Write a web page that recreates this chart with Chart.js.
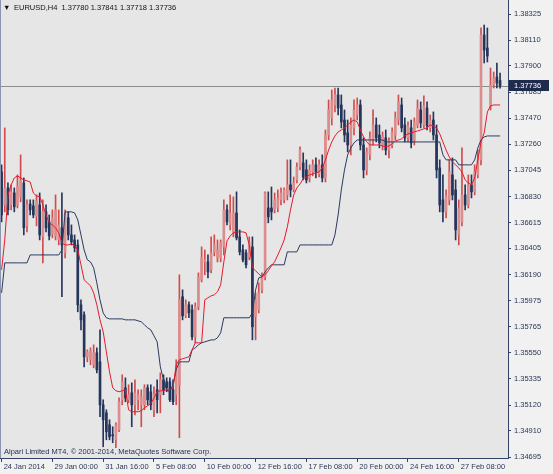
<!DOCTYPE html>
<html lang="en">
<head>
  <meta charset="UTF-8">
  <title>EURUSD,H4</title>
  <script src="https://cdn.jsdelivr.net/npm/chart.js"></script>
  <style>
    body { margin: 0; background: #f0f0f0; }
    .chart-box { position: relative; width: 553px; height: 474px; }
  </style>
</head>
<body>
  <div class="chart-box">
    <canvas id="chart"></canvas>
  </div>
  <script>
    const symbol = 'EURUSD,H4';
    const footerText = 'Alpari Limited MT4, \u00A9 2001-2014, MetaQuotes Software Corp.';
    const slotCount = 160; // 158 bars plus chart shift
    const xTickLabels = ['24 Jan 2014', '29 Jan 00:00', '31 Jan 16:00', '5 Feb 08:00', '10 Feb 00:00',
      '12 Feb 16:00', '17 Feb 08:00', '20 Feb 00:00', '24 Feb 16:00', '27 Feb 08:00'];
    const yTicks = [1.38325, 1.38110, 1.37900, 1.37685, 1.37470, 1.37260, 1.37045, 1.36830, 1.36615,
      1.36405, 1.36190, 1.35975, 1.35765, 1.35550, 1.35335, 1.35120, 1.34910, 1.34695];

    const opens = [
      1.37031, 1.36761, 1.36900, 1.36761, 1.36859, 1.36761, 1.36827, 1.36941, 1.36589, 1.36769,
      1.36753, 1.36671, 1.36761, 1.36499, 1.36704, 1.36622, 1.36524, 1.36507, 1.36474, 1.36573,
      1.36368, 1.36655, 1.36515, 1.36474, 1.36433, 1.35942, 1.35860, 1.35516, 1.35492, 1.35451,
      1.35549, 1.35475, 1.35123, 1.35057, 1.34959, 1.34877, 1.34836, 1.34918, 1.35164, 1.35262,
      1.35164, 1.35221, 1.35123, 1.35164, 1.35123, 1.35123, 1.35262, 1.35230, 1.35082, 1.35246,
      1.35205, 1.35328, 1.35311, 1.35311, 1.35246, 1.35205, 1.35287, 1.36008, 1.35852, 1.35942,
      1.35901, 1.35680, 1.35926, 1.36147, 1.36294, 1.36294, 1.36229, 1.36376, 1.36327, 1.36327,
      1.36417, 1.36720, 1.36597, 1.36532, 1.36695, 1.36499, 1.36392, 1.36368, 1.36335, 1.36417,
      1.35844, 1.35901, 1.36065, 1.36171, 1.36736, 1.36736, 1.36720, 1.36736, 1.36802, 1.36802,
      1.36843, 1.36925, 1.36884, 1.36966, 1.37072, 1.37105, 1.37048, 1.36982, 1.37031, 1.37089,
      1.37015, 1.37089, 1.36982, 1.37334, 1.37474, 1.37580, 1.37662, 1.37580, 1.37457, 1.37351,
      1.37252, 1.37392, 1.37498, 1.37580, 1.37252, 1.37048, 1.37171, 1.37293, 1.37416, 1.37334,
      1.37252, 1.37310, 1.37211, 1.37252, 1.37334, 1.37457, 1.37580, 1.37416, 1.37310, 1.37392,
      1.37293, 1.37416, 1.37539, 1.37416, 1.37555, 1.37392, 1.37457, 1.37334, 1.37064, 1.36802,
      1.36704, 1.36802, 1.37007, 1.36884, 1.36515, 1.36622, 1.36843, 1.36761, 1.36925, 1.36868,
      1.37007, 1.37130, 1.38153, 1.38047, 1.37564, 1.37744, 1.37809, 1.37780
    ];
    const highs = [
      1.37089, 1.37392, 1.36941, 1.36925, 1.36900, 1.37007, 1.37171, 1.36982, 1.36802, 1.36802,
      1.36802, 1.36843, 1.36859, 1.36802, 1.36761, 1.36679, 1.36720, 1.36843, 1.36720, 1.36859,
      1.36720, 1.36704, 1.36597, 1.36515, 1.36474, 1.35983, 1.35885, 1.35573, 1.35590, 1.35614,
      1.35590, 1.35737, 1.35164, 1.35082, 1.35000, 1.34943, 1.34976, 1.35180, 1.35369, 1.35344,
      1.35287, 1.35303, 1.35328, 1.35246, 1.35246, 1.35287, 1.35287, 1.35287, 1.35270, 1.35328,
      1.35385, 1.35369, 1.35344, 1.35344, 1.35328, 1.35492, 1.36188, 1.36065, 1.35983, 1.35967,
      1.35942, 1.35958, 1.36204, 1.36417, 1.36392, 1.36351, 1.36499, 1.36515, 1.36474, 1.36474,
      1.36802, 1.36761, 1.36843, 1.36827, 1.36868, 1.36556, 1.36433, 1.36392, 1.36499, 1.36499,
      1.36040, 1.36122, 1.36204, 1.36868, 1.36868, 1.36908, 1.36859, 1.36884, 1.36900, 1.36900,
      1.37130, 1.37130, 1.36990, 1.37105, 1.37236, 1.37187, 1.37130, 1.37089, 1.37130, 1.37146,
      1.37130, 1.37171, 1.37375, 1.37621, 1.37703, 1.37719, 1.37719, 1.37662, 1.37539, 1.37457,
      1.37474, 1.37621, 1.37637, 1.37621, 1.37310, 1.37228, 1.37359, 1.37539, 1.37474, 1.37416,
      1.37359, 1.37375, 1.37310, 1.37392, 1.37523, 1.37662, 1.37637, 1.37474, 1.37441, 1.37457,
      1.37474, 1.37621, 1.37605, 1.37654, 1.37605, 1.37498, 1.37523, 1.37416, 1.37130, 1.37007,
      1.36884, 1.37130, 1.37146, 1.36966, 1.36802, 1.37228, 1.36925, 1.37007, 1.37007, 1.37089,
      1.37211, 1.38211, 1.38235, 1.38211, 1.37883, 1.37850, 1.37924, 1.37841
    ];
    const lows = [
      1.36622, 1.36704, 1.36679, 1.36720, 1.36704, 1.36736, 1.36786, 1.36515, 1.36540, 1.36679,
      1.36655, 1.36589, 1.36474, 1.36286, 1.36540, 1.36474, 1.36491, 1.36474, 1.36433, 1.36008,
      1.36327, 1.36474, 1.36433, 1.36376, 1.35885, 1.35737, 1.35434, 1.35475, 1.35451, 1.35426,
      1.35385, 1.35025, 1.34779, 1.34836, 1.34836, 1.34812, 1.34771, 1.34902, 1.35123, 1.35148,
      1.35139, 1.34943, 1.35041, 1.35082, 1.34943, 1.35082, 1.35123, 1.35082, 1.35025, 1.35057,
      1.35057, 1.35205, 1.35230, 1.35148, 1.35123, 1.35123, 1.34853, 1.35819, 1.35836, 1.35836,
      1.35655, 1.35631, 1.35901, 1.36130, 1.36188, 1.36163, 1.36204, 1.36343, 1.36294, 1.36294,
      1.36351, 1.36597, 1.36556, 1.36499, 1.36474, 1.36351, 1.36294, 1.36245, 1.36311, 1.35655,
      1.35655, 1.35876, 1.36040, 1.36147, 1.36614, 1.36638, 1.36695, 1.36704, 1.36761, 1.36777,
      1.36802, 1.36827, 1.36868, 1.36941, 1.37048, 1.36966, 1.36941, 1.36949, 1.36999, 1.36982,
      1.36990, 1.36949, 1.36949, 1.37293, 1.37416, 1.37523, 1.37498, 1.37392, 1.37277, 1.37195,
      1.37171, 1.37334, 1.37457, 1.37211, 1.36982, 1.37007, 1.37130, 1.37252, 1.37277, 1.37228,
      1.37211, 1.37171, 1.37146, 1.37228, 1.37293, 1.37416, 1.37359, 1.37277, 1.37277, 1.37228,
      1.37252, 1.37392, 1.37392, 1.37392, 1.37375, 1.37359, 1.37293, 1.36982, 1.36704, 1.36622,
      1.36655, 1.36761, 1.36802, 1.36474, 1.36433, 1.36589, 1.36720, 1.36736, 1.36818, 1.36843,
      1.36982, 1.37089, 1.37924, 1.37932, 1.37539, 1.37719, 1.37719, 1.37718
    ];
    const closes = [
      1.36679, 1.36900, 1.36720, 1.36868, 1.36745, 1.36917, 1.36958, 1.36573, 1.36761, 1.36720,
      1.36679, 1.36794, 1.36515, 1.36704, 1.36573, 1.36507, 1.36655, 1.36720, 1.36597, 1.36433,
      1.36679, 1.36515, 1.36458, 1.36409, 1.35942, 1.35819, 1.35516, 1.35557, 1.35565, 1.35549,
      1.35410, 1.35123, 1.35000, 1.34902, 1.34861, 1.34869, 1.34959, 1.35148, 1.35311, 1.35180,
      1.35205, 1.35123, 1.35221, 1.35205, 1.35189, 1.35262, 1.35164, 1.35123, 1.35205, 1.35164,
      1.35328, 1.35246, 1.35262, 1.35164, 1.35148, 1.35410, 1.35983, 1.35852, 1.35942, 1.35876,
      1.35680, 1.35926, 1.36171, 1.36327, 1.36311, 1.36212, 1.36368, 1.36433, 1.36392, 1.36450,
      1.36720, 1.36622, 1.36695, 1.36695, 1.36491, 1.36376, 1.36311, 1.36270, 1.36450, 1.35762,
      1.35983, 1.36040, 1.36171, 1.36859, 1.36663, 1.36704, 1.36802, 1.36818, 1.36859, 1.36884,
      1.36925, 1.36884, 1.36941, 1.37072, 1.37211, 1.36990, 1.36966, 1.37048, 1.37089, 1.37031,
      1.37089, 1.36982, 1.37334, 1.37539, 1.37621, 1.37662, 1.37555, 1.37441, 1.37334, 1.37252,
      1.37416, 1.37539, 1.37580, 1.37252, 1.37048, 1.37195, 1.37310, 1.37416, 1.37310, 1.37269,
      1.37326, 1.37211, 1.37277, 1.37359, 1.37474, 1.37605, 1.37392, 1.37310, 1.37408, 1.37269,
      1.37441, 1.37555, 1.37433, 1.37572, 1.37408, 1.37457, 1.37334, 1.37048, 1.36761, 1.36704,
      1.36835, 1.37031, 1.36843, 1.36556, 1.36736, 1.36843, 1.36761, 1.36925, 1.36868, 1.37031,
      1.37130, 1.38153, 1.38030, 1.37981, 1.37744, 1.37801, 1.37760, 1.37736
    ];
    // red (fast) and dark blue (slow) indicator lines
    const fastLine = [
      1.36229, 1.36474, 1.36843, 1.36925, 1.36982, 1.36999, 1.36982, 1.36966, 1.36958, 1.36949,
      1.36859, 1.36835, 1.36827, 1.36761, 1.36679, 1.36614, 1.36597, 1.36573, 1.36532, 1.36450,
      1.36433, 1.36433, 1.36442, 1.36425, 1.36392, 1.36270, 1.36147, 1.36122, 1.36098, 1.36040,
      1.35942, 1.35819, 1.35721, 1.35557, 1.35393, 1.35262, 1.35238, 1.35230, 1.35238, 1.35246,
      1.35082, 1.35066, 1.35066, 1.35066, 1.35074, 1.35098, 1.35115, 1.35131, 1.35180, 1.35230,
      1.35238, 1.35238, 1.35246, 1.35246, 1.35262, 1.35451, 1.35492, 1.35500, 1.35508, 1.35516,
      1.35573, 1.35631, 1.35631, 1.35631, 1.35983, 1.36000, 1.36016, 1.36024, 1.36049, 1.36106,
      1.36294, 1.36466, 1.36507, 1.36532, 1.36540, 1.36540, 1.36540, 1.36532, 1.36433, 1.36245,
      1.36221, 1.36196, 1.36171, 1.36188, 1.36221, 1.36262, 1.36294, 1.36351, 1.36409, 1.36474,
      1.36581, 1.36720, 1.36843, 1.36900, 1.36933, 1.36974, 1.36990, 1.37007, 1.37015, 1.37023,
      1.37031, 1.37064, 1.37130, 1.37211, 1.37277, 1.37326, 1.37359, 1.37375, 1.37392, 1.37416,
      1.37441, 1.37457, 1.37441, 1.37375, 1.37318, 1.37277, 1.37252, 1.37252, 1.37252, 1.37252,
      1.37244, 1.37236, 1.37244, 1.37261, 1.37285, 1.37293, 1.37302, 1.37326, 1.37343, 1.37351,
      1.37359, 1.37367, 1.37375, 1.37384, 1.37392, 1.37416, 1.37408, 1.37392, 1.37343, 1.37277,
      1.37211, 1.37154, 1.37113, 1.37089, 1.37064, 1.37031, 1.36966, 1.36941, 1.36925, 1.36982,
      1.37130, 1.37277, 1.37351, 1.37523, 1.37572, 1.37580, 1.37580, 1.37580
    ];
    const slowLine = [
      1.36040, 1.36286, 1.36286, 1.36286, 1.36286, 1.36286, 1.36286, 1.36286, 1.36286, 1.36351,
      1.36351, 1.36351, 1.36351, 1.36351, 1.36351, 1.36351, 1.36351, 1.36351, 1.36351, 1.36392,
      1.36704, 1.36704, 1.36704, 1.36695, 1.36638, 1.36515, 1.36392, 1.36311, 1.36294, 1.36245,
      1.36122, 1.35983, 1.35876, 1.35836, 1.35827, 1.35827, 1.35827, 1.35827, 1.35827, 1.35819,
      1.35819, 1.35819, 1.35819, 1.35811, 1.35803, 1.35778, 1.35754, 1.35737, 1.35688, 1.35639,
      1.35434, 1.35328, 1.35246, 1.35230, 1.35287, 1.35410, 1.35475, 1.35475, 1.35475, 1.35475,
      1.35573, 1.35590, 1.35614, 1.35631, 1.35639, 1.35647, 1.35655, 1.35655, 1.35672, 1.35713,
      1.35836, 1.35836, 1.35836, 1.35836, 1.35836, 1.35836, 1.35836, 1.35836, 1.35836, 1.35876,
      1.36065, 1.36163, 1.36171, 1.36212, 1.36245, 1.36270, 1.36270, 1.36270, 1.36270, 1.36270,
      1.36376, 1.36376, 1.36376, 1.36376, 1.36433, 1.36433, 1.36433, 1.36433, 1.36433, 1.36433,
      1.36433, 1.36433, 1.36433, 1.36433, 1.36433, 1.36515, 1.36679, 1.36884, 1.37048, 1.37171,
      1.37228, 1.37269, 1.37293, 1.37293, 1.37293, 1.37293, 1.37293, 1.37293, 1.37293, 1.37293,
      1.37293, 1.37277, 1.37277, 1.37277, 1.37277, 1.37277, 1.37277, 1.37277, 1.37277, 1.37277,
      1.37277, 1.37277, 1.37277, 1.37277, 1.37277, 1.37277, 1.37277, 1.37277, 1.37277, 1.37171,
      1.37130, 1.37130, 1.37130, 1.37130, 1.37089, 1.37089, 1.37089, 1.37089, 1.37089, 1.37130,
      1.37228, 1.37293, 1.37318, 1.37326, 1.37326, 1.37326, 1.37326, 1.37326
    ];

    const bullBody = '#dc8c8c';
    const bullWick = '#d24c4c';
    const bearColor = '#26355a';
    const axisColor = '#34426a';
    const textColor = '#2a3756';
    const last = closes.length - 1;
    const lastPrice = closes[last];

    const slots = Array.from({ length: slotCount }, (_, i) => i);
    const isBull = opens.map((o, i) => closes[i] >= o && closes[i] !== o);

    const mtPlugin = {
      id: 'mt',
      beforeDraw(chart) {
        const { ctx, chartArea: a } = chart;
        ctx.save();
        ctx.fillStyle = '#f1f1f1';
        ctx.fillRect(0, 0, chart.width, chart.height);
        ctx.fillStyle = '#e6e6e6';
        ctx.fillRect(a.left, a.top, a.right - a.left, a.bottom - a.top);
        ctx.restore();
      },
      beforeDatasetsDraw(chart) {
        const { ctx, chartArea: a } = chart;
        const y = Math.round(chart.scales.y.getPixelForValue(lastPrice)) + 0.5;
        ctx.save();
        ctx.strokeStyle = '#8c8c8c';
        ctx.lineWidth = 1;
        ctx.beginPath();
        ctx.moveTo(a.left, y);
        ctx.lineTo(a.right, y);
        ctx.stroke();
        ctx.restore();
      },
      afterDraw(chart) {
        const { ctx, chartArea: a } = chart;
        ctx.save();
        // left edge of the chart window
        ctx.strokeStyle = '#8a94ae';
        ctx.beginPath();
        ctx.moveTo(a.left + 0.5, a.top);
        ctx.lineTo(a.left + 0.5, a.bottom);
        ctx.stroke();

        ctx.font = '7.5px "Liberation Sans", Arial, sans-serif';
        ctx.textBaseline = 'middle';
        ctx.fillStyle = '#111';
        ctx.fillText('\u25BC', 3, 8);
        const head = symbol + '  ' + [opens[last], highs[last], lows[last], closes[last]]
          .map(v => v.toFixed(5)).join(' ');
        ctx.fillText(head, 14, 8);

        ctx.fillStyle = '#24305a';
        ctx.fillText(footerText, 4, a.bottom - 6);

        // current price label on the price scale
        const y = chart.scales.y.getPixelForValue(lastPrice);
        ctx.fillStyle = '#1e2b4d';
        ctx.fillRect(a.right + 1, Math.round(y) - 6, 40, 11);
        ctx.fillStyle = '#ffffff';
        ctx.fillText(lastPrice.toFixed(5), a.right + 6, Math.round(y));
        ctx.restore();
      }
    };

    new Chart(document.getElementById('chart'), {
      type: 'bar',
      data: {
        labels: slots,
        datasets: [
          {
            type: 'line',
            data: fastLine,
            borderColor: '#e41b2c',
            borderWidth: 1,
            pointRadius: 0,
            tension: 0,
            order: 0
          },
          {
            type: 'line',
            data: slowLine,
            borderColor: '#2b3a60',
            borderWidth: 1,
            pointRadius: 0,
            tension: 0,
            order: 0
          },
          {
            data: opens.map((o, i) => [o, closes[i]]),
            backgroundColor: isBull.map(b => b ? bullBody : bearColor),
            barThickness: 2,
            minBarLength: 1,
            grouped: false,
            order: 1
          },
          {
            data: lows.map((l, i) => [l, highs[i]]),
            backgroundColor: isBull.map(b => b ? bullWick : bearColor),
            barThickness: 1,
            grouped: false,
            order: 2
          }
        ]
      },
      options: {
        responsive: true,
        maintainAspectRatio: false,
        animation: false,
        layout: { padding: 0 },
        plugins: {
          legend: { display: false },
          tooltip: { enabled: false }
        },
        scales: {
          x: {
            type: 'category',
            offset: true,
            border: { color: axisColor, width: 1 },
            grid: { drawOnChartArea: false, drawTicks: true, tickLength: 4, color: axisColor, offset: false },
            ticks: {
              autoSkip: false,
              maxRotation: 0,
              align: 'start',
              padding: 0,
              color: textColor,
              font: { family: '"Liberation Sans", Arial, sans-serif', size: 7.5 },
              callback: (v, i) => (i % 16 === 0 && xTickLabels[i / 16]) ? ' ' + xTickLabels[i / 16] : null
            },
            afterFit(scale) {
              scale.height = 16;
              scale.paddingLeft = 0;
              scale.paddingRight = 0;
            }
          },
          y: {
            position: 'right',
            min: 1.34687,
            max: 1.38440,
            border: { color: axisColor, width: 1 },
            grid: { drawOnChartArea: false, drawTicks: true, tickLength: 3, color: axisColor },
            ticks: {
              padding: 3,
              color: textColor,
              font: { family: '"Liberation Sans", Arial, sans-serif', size: 7.5 },
              callback: v => v.toFixed(5)
            },
            afterBuildTicks(scale) {
              scale.ticks = yTicks.map(v => ({ value: v }));
            },
            afterFit(scale) {
              scale.width = 45;
              scale.paddingTop = 0;
              scale.paddingBottom = 0;
            }
          }
        }
      },
      plugins: [mtPlugin]
    });
  </script>
</body>
</html>
